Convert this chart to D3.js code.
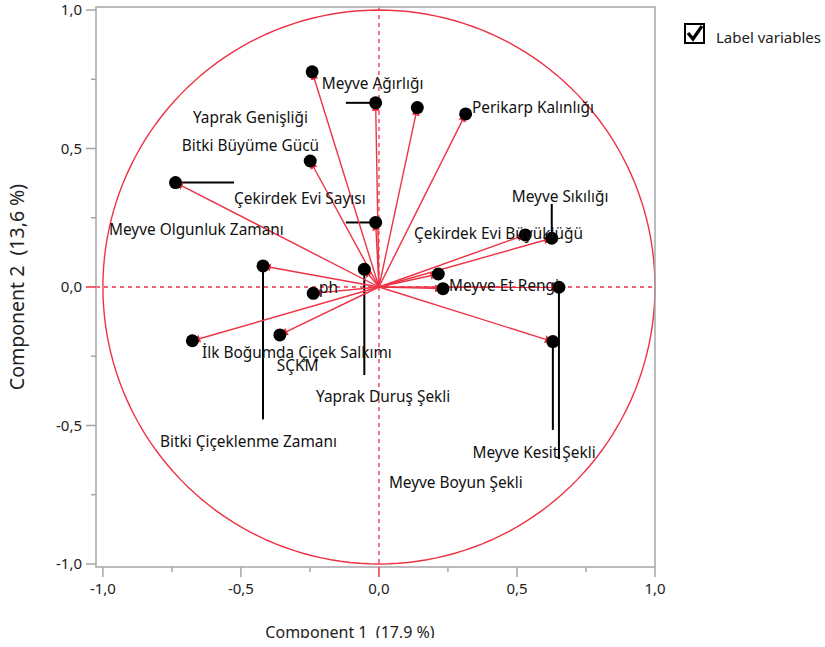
<!DOCTYPE html>
<html>
<head>
<meta charset="utf-8">
<script src="https://cdn.jsdelivr.net/npm/d3@7"></script>
<style>
  body { margin: 0; background: #fff; }
  svg { display: block; font-family: "Noto Sans", "Open Sans", sans-serif; }
  .title { white-space: pre; }
</style>
</head>
<body>
<svg id="chart" width="825" height="638"></svg>
<script>
// loadings (component 1, component 2) for each variable
let comp1 = [-0.242, -0.012, 0.139, 0.314, -0.249, -0.737, -0.012, -0.420, -0.053, -0.238, -0.676, -0.359, 0.530, 0.626, 0.215, 0.232, 0.652, 0.630]
let comp2 = [0.777, 0.665, 0.648, 0.625, 0.455, 0.377, 0.233, 0.076, 0.064, -0.023, -0.194, -0.173, 0.188, 0.176, 0.047, -0.006, -0.001, -0.197]

// label text and where the label sits (data units, left edge / vertical middle)
let labels = ["Meyve Ağırlığı", "Yaprak Genişliği", "", "Perikarp Kalınlığı", "Bitki Büyüme Gücü", "Çekirdek Evi Sayısı",
    "Meyve Olgunluk Zamanı", "Bitki Çiçeklenme Zamanı", "Yaprak Duruş Şekli", "ph", "İlk Boğumda Çiçek Salkımı", "SÇKM",
    "Çekirdek Evi Büyüklüğü", "Meyve Sıkılığı", "", "Meyve Et Rengi", "Meyve Kesit Şekli", "Meyve Boyun Şekli"]
let labelX = [-0.207, -0.674, null, 0.337, -0.714, -0.525, -0.978, -0.793, -0.228, -0.217, -0.641, -0.370, 0.127, 0.481, null, 0.254, 0.339, 0.036]
let labelY = [0.736, 0.610, null, 0.646, 0.509, 0.318, 0.209, -0.560, -0.397, -0.004, -0.238, -0.285, 0.191, 0.326, null, 0.004, -0.598, -0.708]

// leader lines (end point, data units), null = no leader
let leadX = [null, -0.120, null, null, null, -0.525, -0.120, -0.420, -0.053, null, null, null, null, 0.626, null, null, 0.652, 0.630]
let leadY = [null, 0.665, null, null, null, 0.377, 0.233, -0.478, -0.318, null, null, null, null, 0.300, null, null, -0.621, -0.516]

let ticks = [-1, -0.5, 0, 0.5, 1]
let minorTicks = [-0.75, -0.25, 0.25, 0.75]
let xTitle = "Component 1  (17,9 %)"
let yTitle = "Component 2  (13,6 %)"

let red = "#ee3345"
let grey = "#a6a6a6"
let fmt = d => d3.format(".1f")(d).replace(".", ",").replace("−", "-")

let svg = d3.select("#chart")
let pLeft = 96, pRight = 655, pTop = 7, pBottom = 567

let x = d3.scaleLinear().domain([-1.025, 1.0]).range([pLeft, pRight])
let y = d3.scaleLinear().domain([-1.011, 1.011]).range([pBottom, pTop])

let plot = svg.append("g")

// unit circle
let circ = d3.range(0, 361, 2).map(a => [Math.cos(a * Math.PI / 180), Math.sin(a * Math.PI / 180)])
plot.append("path")
    .attr("d", d3.line().x(d => x(d[0])).y(d => y(d[1]))(circ))
    .attr("fill", "none").attr("stroke", red).attr("stroke-width", 1.4)

// dashed zero lines
plot.append("line").attr("x1", x(0)).attr("x2", x(0)).attr("y1", pTop).attr("y2", pBottom)
    .attr("stroke", red).attr("stroke-width", 1.3).attr("stroke-dasharray", "4,4")
plot.append("line").attr("x1", pLeft).attr("x2", pRight).attr("y1", y(0)).attr("y2", y(0))
    .attr("stroke", red).attr("stroke-width", 1.3).attr("stroke-dasharray", "4,4")

// arrow marker
svg.append("defs").append("marker")
    .attr("id", "arr").attr("viewBox", "0 0 10 10").attr("refX", 10).attr("refY", 5)
    .attr("markerWidth", 8).attr("markerHeight", 8).attr("markerUnits", "userSpaceOnUse")
    .attr("orient", "auto")
    .append("path").attr("d", "M0,0 L10,5 L0,10 z").attr("fill", red)

let idx = d3.range(comp1.length)

// leader lines
plot.selectAll(".lead")
    .data(idx.filter(i => leadX[i] != null))
    .join("line")
    .attr("class", "lead")
    .attr("x1", i => x(comp1[i])).attr("y1", i => y(comp2[i]))
    .attr("x2", i => x(leadX[i])).attr("y2", i => y(leadY[i]))
    .attr("stroke", "black").attr("stroke-width", 2)

plot.selectAll(".vec")
    .data(idx)
    .join("line")
    .attr("class", "vec")
    .attr("x1", x(0)).attr("y1", y(0))
    .attr("x2", i => x(comp1[i])).attr("y2", i => y(comp2[i]))
    .attr("stroke", red).attr("stroke-width", 1.4)
    .attr("marker-end", "url(#arr)")

plot.selectAll(".dot")
    .data(idx)
    .join("circle")
    .attr("class", "dot")
    .attr("cx", i => x(comp1[i])).attr("cy", i => y(comp2[i]))
    .attr("r", 6.5).attr("fill", "black")

plot.selectAll(".lbl")
    .data(idx.filter(i => labelX[i] != null))
    .join("text")
    .attr("class", "lbl")
    .attr("x", i => x(labelX[i])).attr("y", i => y(labelY[i]))
    .attr("dy", "0.35em")
    .attr("font-size", "15.4px").attr("fill", "#111")
    .text(i => labels[i])

// frame
svg.append("rect").attr("x", pLeft).attr("y", pTop).attr("width", pRight - pLeft).attr("height", pBottom - pTop)
    .attr("fill", "none").attr("stroke", grey).attr("stroke-width", 1.5)

// x axis
let xa = svg.append("g").attr("transform", `translate(0,${pBottom})`)
xa.selectAll(".maj").data(ticks).join("line")
    .attr("x1", d => x(d)).attr("x2", d => x(d)).attr("y1", 0).attr("y2", 10)
    .attr("stroke", d => d === 0 ? red : grey).attr("stroke-width", 1.5)
xa.selectAll(".min").data(minorTicks).join("line")
    .attr("x1", d => x(d)).attr("x2", d => x(d)).attr("y1", 0).attr("y2", 5)
    .attr("stroke", grey).attr("stroke-width", 1.5)
xa.selectAll("text").data(ticks).join("text")
    .attr("x", d => x(d)).attr("y", 22).attr("dy", "0.35em")
    .attr("text-anchor", "middle").attr("font-size", "15px").attr("fill", "#222")
    .text(fmt)

// y axis
let ya = svg.append("g").attr("transform", `translate(${pLeft},0)`)
ya.selectAll(".maj").data(ticks).join("line")
    .attr("y1", d => y(d)).attr("y2", d => y(d)).attr("x1", 0).attr("x2", -10)
    .attr("stroke", d => d === 0 ? red : grey).attr("stroke-width", 1.5)
ya.selectAll(".min").data(minorTicks).join("line")
    .attr("y1", d => y(d)).attr("y2", d => y(d)).attr("x1", 0).attr("x2", -5)
    .attr("stroke", grey).attr("stroke-width", 1.5)
ya.selectAll("text").data(ticks).join("text")
    .attr("x", -14).attr("y", d => y(d)).attr("dy", "0.35em")
    .attr("text-anchor", "end").attr("font-size", "15px").attr("fill", "#222")
    .text(fmt)

// titles
svg.append("text").attr("class", "title").attr("x", 350).attr("y", 638)
    .attr("text-anchor", "middle").attr("font-size", "16px").attr("fill", "#222")
    .text(xTitle)
svg.append("text").attr("class", "title").attr("transform", `translate(24,${y(0)}) rotate(-90)`)
    .attr("text-anchor", "middle").attr("font-size", "19.5px").attr("fill", "#222")
    .text(yTitle)

// legend checkbox
let lg = svg.append("g").attr("transform", "translate(684,23)")
lg.append("rect").attr("x", 1).attr("y", 1).attr("width", 19).attr("height", 19)
    .attr("fill", "white").attr("stroke", "black").attr("stroke-width", 2)
lg.append("path").attr("d", "M4,10 L9,16 L18,3")
    .attr("fill", "none").attr("stroke", "black").attr("stroke-width", 3.2)
lg.append("text").attr("x", 32).attr("y", 15).attr("dy", "0.35em")
    .attr("font-size", "15px").attr("fill", "#222").text("Label variables")
</script>
</body>
</html>
